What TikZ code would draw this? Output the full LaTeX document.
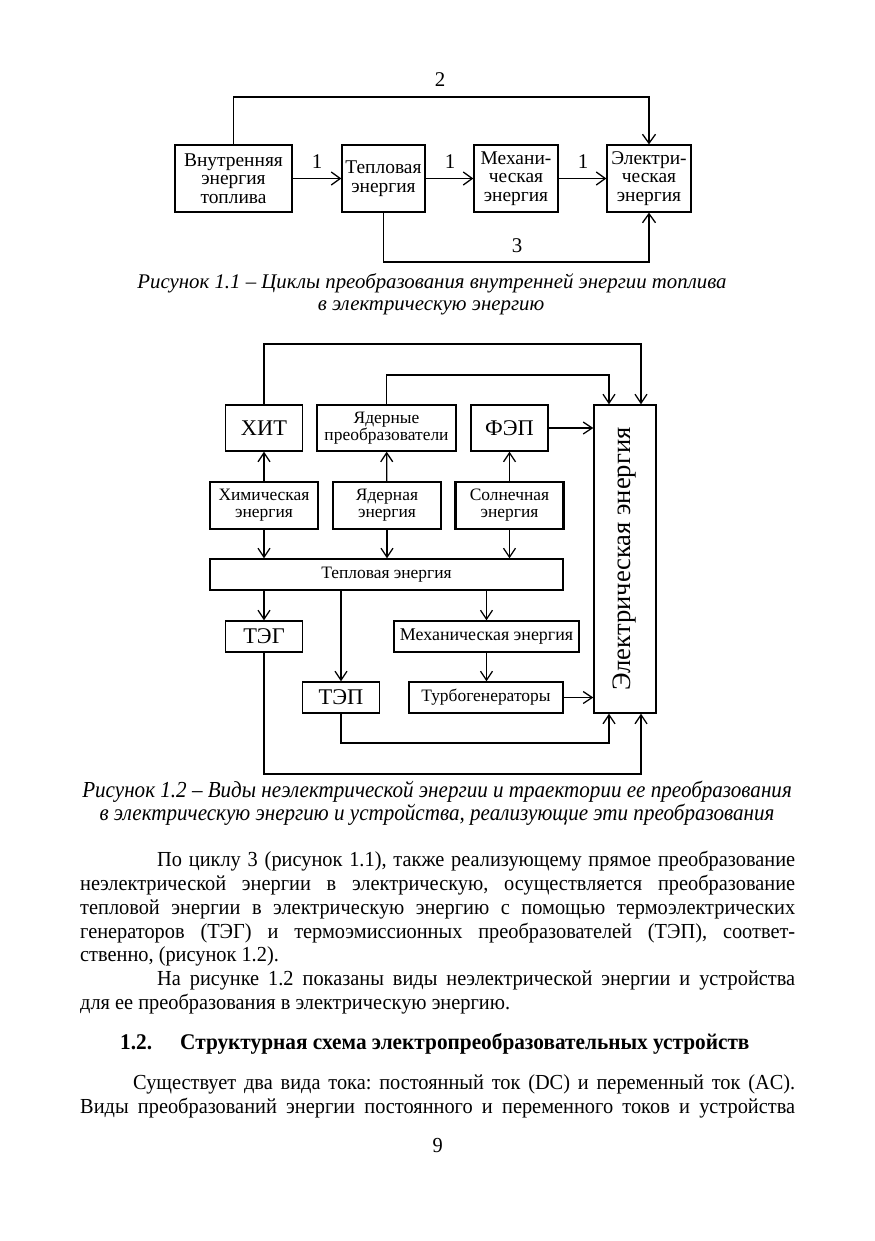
\documentclass[tikz,border=0pt]{standalone}
\usepackage{fontspec}
\setmainfont{Liberation Serif}
\newfontfamily\capfont{Liberation Serif}
\newfontfamily\capnarrow{Liberation Serif}[FakeStretch=0.92]
\newfontfamily\bodyfont{Liberation Serif}[FakeStretch=0.95]
\usetikzlibrary{arrows.meta}
\begin{document}
\frenchspacing
\begin{tikzpicture}[x=1bp,y=-1bp,
  boxa/.style={draw, line width=1.3bp, inner sep=0pt, minimum height=67bp, align=center,
    font=\fontsize{19.5}{18.5}\selectfont},
  boxb/.style={draw, line width=1.3bp, inner sep=0pt, align=center,
    font=\fontsize{17.5}{17}\selectfont},
  boxthick/.style={boxb, line width=2.2bp, minimum width=108bp, minimum height=47bp},
  bigtxt/.style={font=\fontsize{22.5}{24}\selectfont},
  arra/.style={line width=1.3bp, -{Straight Barb[length=9bp,width=13bp,line width=1.3bp]}},
  arrb/.style={line width=1.3bp, -{Straight Barb[length=9bp,width=12bp,line width=1.3bp]}},
  lbl/.style={inner sep=0pt, font=\fontsize{21}{22}\selectfont},
  capA/.style={inner sep=0pt, anchor=base, font=\capfont\itshape\fontsize{20.9}{22}\selectfont},
  capB/.style={inner sep=0pt, anchor=base, font=\capnarrow\itshape\fontsize{23}{24}\selectfont},
  body/.style={inner sep=0pt, anchor=base west, font=\bodyfont\fontsize{21.5}{24}\selectfont},
]
\useasboundingbox[fill=white] (0,0) rectangle (875,1241);

% ---------- Figure 1.1 ----------
\node[boxa, minimum width=117bp] (fuel) at (233.5,178.5) {Внутренняя\\энергия\\топлива};
\node[boxa, minimum width=83bp] (heat) at (383.5,178.5) {Тепловая\\энергия};
\node[boxa, minimum width=84bp] (mech) at (516,178.5) {Механи-\\ческая\\энергия};
\node[boxa, minimum width=84bp] (elec) at (649,178.5) {Электри-\\ческая\\энергия};
\draw[arra] (fuel) -- (heat);
\draw[arra] (heat) -- (mech);
\draw[arra] (mech) -- (elec);
\coordinate (top2) at (440,97);
\coordinate (bot3) at (517,262);
\draw[arra] (fuel.north) |- (top2) -| (elec.north);
\draw[arra] (heat.south) |- (bot3) -| (elec.south);
\node[lbl] (l2) at (440,80) {2};
\node[lbl] (l1a) at (317,162) {1};
\node[lbl] (l1b) at (450,162) {1};
\node[lbl] (l1c) at (583,162) {1};
\node[lbl] (l3) at (517,246) {3};
\node[capA] (c1a) at (432,288) {Рисунок 1.1 – Циклы преобразования внутренней энергии топлива};
\node[capA] (c1b) at (431,310) {в электрическую энергию};

% ---------- Figure 1.2 ----------
\node[boxb, bigtxt, minimum width=77bp, minimum height=46bp] (hit) at (264,428) {ХИТ};
\node[boxb, minimum width=139bp, minimum height=46bp] (nconv) at (386.5,428) {Ядерные\\преобразователи};
\node[boxb, bigtxt, minimum width=77bp, minimum height=46bp] (fep) at (509.5,428) {ФЭП};
\node[boxb, minimum width=62bp, minimum height=308bp] (el) at (625,559)
  {\rotatebox{90}{\fontsize{26.7}{28}\selectfont Электрическая энергия}};
\node[boxthick] (chem) at (264,505.5) {Химическая\\энергия};
\node[boxthick] (nuc) at (387,505.5) {Ядерная\\энергия};
\node[boxthick] (sol) at (509.5,505.5) {Солнечная\\энергия};
\node[boxb, minimum width=353bp, minimum height=31bp] (teplo) at (386.5,574.5) {Тепловая энергия};
\node[boxb, bigtxt, minimum width=77bp, minimum height=31bp] (teg) at (264,636.5) {ТЭГ};
\node[boxb, minimum width=185bp, minimum height=31bp, font=\fontsize{18}{18}\selectfont] (mechE) at (486.5,636.5) {Механическая энергия};
\node[boxb, bigtxt, minimum width=77bp, minimum height=31bp] (tep) at (341,697.5) {ТЭП};
\node[boxb, minimum width=154bp, minimum height=31bp] (turbo) at (486,697.5) {Турбогенераторы};

\draw[arrb] (chem) -- (hit);
\draw[arrb] (nuc) -- (nconv);
\draw[arrb] (sol) -- (fep);
\draw[arrb] (chem.south) -- (chem.south |- teplo.north);
\draw[arrb] (nuc.south) -- (nuc.south |- teplo.north);
\draw[arrb] (sol.south) -- (sol.south |- teplo.north);
\draw[arrb] (teg.north |- teplo.south) -- (teg.north);
\draw[arrb] (tep.north |- teplo.south) -- (tep.north);
\draw[arrb] (mechE.north |- teplo.south) -- (mechE.north);
\draw[arrb] (mechE.south) -- (mechE.south |- turbo.north);
\draw[arrb] (turbo.east) -- (turbo.east -| el.west);
\draw[arrb] (fep.east) -- (fep.east -| el.west);
\coordinate (t1) at (450,344);
\coordinate (t2) at (500,375);
\coordinate (b1) at (470,743);
\coordinate (b2) at (450,774);
\draw[arrb] (hit.north) |- (t1) -| ([xshift=16bp]el.north);
\draw[arrb] (nconv.north) |- (t2) -| ([xshift=-16bp]el.north);
\draw[arrb] (tep.south) |- (b1) -| ([xshift=-16bp]el.south);
\draw[arrb] (teg.south) |- (b2) -| ([xshift=16bp]el.south);

\node[capB] (c2a) at (437,797) {Рисунок 1.2 – Виды неэлектрической энергии и траектории ее преобразования};
\node[capB] (c2b) at (437,820) {в электрическую энергию и устройства, реализующие эти преобразования};

% ---------- Body text ----------
\node[body] (p1) at (157,866) {\makebox[638bp][s]{По циклу 3 (рисунок 1.1), также реализующему прямое преобразование}};
\node[body] (p2) at (80,890) {\makebox[715bp][s]{неэлектрической энергии в электрическую, осуществляется преобразование}};
\node[body] (p3) at (80,914) {\makebox[715bp][s]{тепловой энергии в электрическую энергию с помощью термоэлектрических}};
\node[body] (p4) at (80,938) {\makebox[715bp][s]{генераторов (ТЭГ) и термоэмиссионных преобразователей (ТЭП), соответ-}};
\node[body] (p5) at (80,961) {ственно, (рисунок 1.2).};
\node[body] (p6) at (157,985) {\makebox[638bp][s]{На рисунке 1.2 показаны виды неэлектрической энергии и устройства}};
\node[body] (p7) at (80,1009) {для ее преобразования в электрическую энергию.};
\node[body, font=\bodyfont\bfseries\fontsize{22.5}{24}\selectfont] (h1) at (120,1049) {1.2.};
\node[body, font=\bodyfont\bfseries\fontsize{22.5}{24}\selectfont] (h2) at (180,1049) {Структурная схема электропреобразовательных устройств};
\node[body] (p8) at (133,1089) {\makebox[662bp][s]{Существует два вида тока: постоянный ток (DC) и переменный ток (AC).}};
\node[body] (p9) at (80,1113) {\makebox[715bp][s]{Виды преобразований энергии постоянного и переменного токов и устройства}};
\node[body] (pg) at (437,1152) {\makebox[0pt]{9}};
\end{tikzpicture}
\end{document}
